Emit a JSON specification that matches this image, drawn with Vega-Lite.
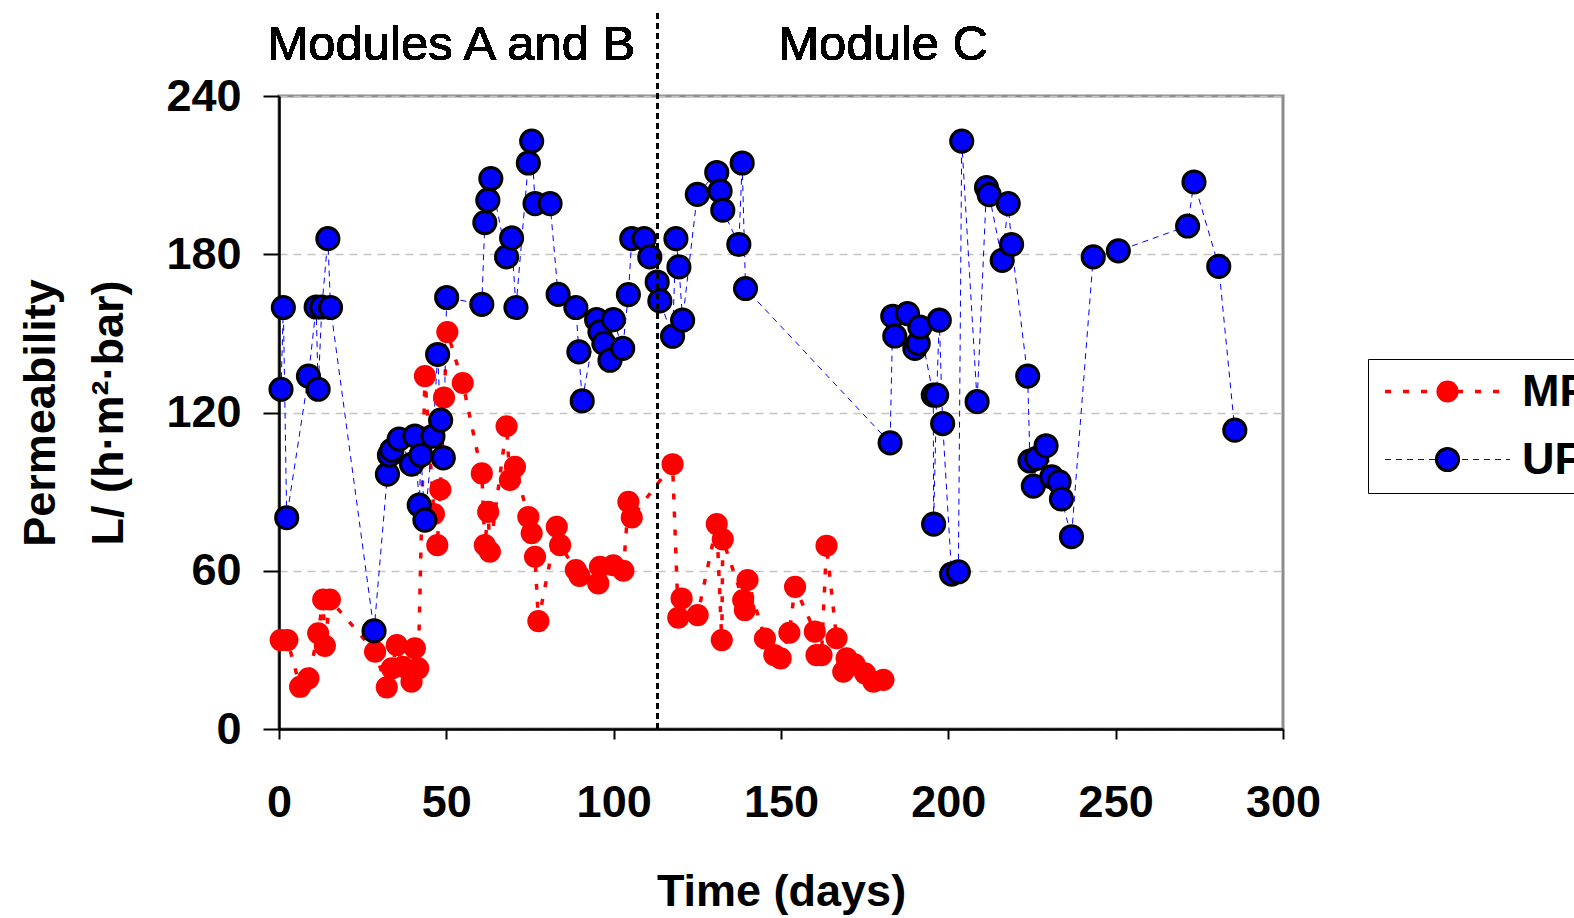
{
 "$schema": "https://vega.github.io/schema/vega-lite/v6.json",
 "width": 1004,
 "height": 633,
 "autosize": {"type": "none"},
 "padding": {"left": 279, "top": 96, "right": 291, "bottom": 189},
 "background": "white",
 "config": {
  "font": "Liberation Sans",
  "view": {"stroke": "#8c8c8c", "strokeWidth": 3}
 },
 "data": {"values": [
  {"day":0.5,"perm":33.7,"series":"MF"},{"day":2.5,"perm":33.7,"series":"MF"},{"day":6.3,"perm":16.0,"series":"MF"},{"day":8.8,"perm":19.2,"series":"MF"},
  {"day":11.7,"perm":36.3,"series":"MF"},{"day":13.2,"perm":49.1,"series":"MF"},{"day":13.7,"perm":31.5,"series":"MF"},{"day":15.2,"perm":49.1,"series":"MF"},
  {"day":28.7,"perm":29.3,"series":"MF"},{"day":32.2,"perm":15.8,"series":"MF"},{"day":33.7,"perm":23.0,"series":"MF"},{"day":35.2,"perm":31.8,"series":"MF"},
  {"day":37.0,"perm":23.6,"series":"MF"},{"day":39.6,"perm":17.9,"series":"MF"},{"day":40.6,"perm":30.6,"series":"MF"},{"day":41.6,"perm":23.0,"series":"MF"},
  {"day":43.6,"perm":133.8,"series":"MF"},{"day":46.3,"perm":81.5,"series":"MF"},{"day":47.3,"perm":69.7,"series":"MF"},{"day":48.2,"perm":90.8,"series":"MF"},
  {"day":49.3,"perm":125.7,"series":"MF"},{"day":50.3,"perm":150.5,"series":"MF"},{"day":54.9,"perm":131.2,"series":"MF"},{"day":60.6,"perm":96.9,"series":"MF"},
  {"day":61.5,"perm":69.7,"series":"MF"},{"day":62.5,"perm":82.3,"series":"MF"},{"day":63.0,"perm":67.2,"series":"MF"},{"day":68.0,"perm":114.8,"series":"MF"},
  {"day":69.0,"perm":94.4,"series":"MF"},{"day":70.5,"perm":99.4,"series":"MF"},{"day":74.5,"perm":80.4,"series":"MF"},{"day":75.5,"perm":74.2,"series":"MF"},
  {"day":76.5,"perm":65.3,"series":"MF"},{"day":77.5,"perm":40.9,"series":"MF"},{"day":83.0,"perm":76.7,"series":"MF"},{"day":84.0,"perm":69.7,"series":"MF"},
  {"day":88.7,"perm":60.3,"series":"MF"},{"day":89.8,"perm":58.0,"series":"MF"},{"day":95.4,"perm":55.2,"series":"MF"},{"day":95.9,"perm":61.5,"series":"MF"},
  {"day":99.9,"perm":62.1,"series":"MF"},{"day":102.9,"perm":60.0,"series":"MF"},{"day":104.4,"perm":86.1,"series":"MF"},{"day":105.4,"perm":80.2,"series":"MF"},
  {"day":117.6,"perm":100.4,"series":"MF"},{"day":119.3,"perm":42.2,"series":"MF"},{"day":120.3,"perm":49.5,"series":"MF"},{"day":125.1,"perm":43.2,"series":"MF"},
  {"day":130.8,"perm":77.7,"series":"MF"},{"day":132.3,"perm":33.7,"series":"MF"},{"day":132.6,"perm":71.9,"series":"MF"},{"day":138.7,"perm":48.9,"series":"MF"},
  {"day":139.2,"perm":45.1,"series":"MF"},{"day":140.0,"perm":56.5,"series":"MF"},{"day":145.2,"perm":34.3,"series":"MF"},{"day":148.0,"perm":28.0,"series":"MF"},
  {"day":149.9,"perm":26.8,"series":"MF"},{"day":152.5,"perm":36.5,"series":"MF"},{"day":154.2,"perm":53.9,"series":"MF"},{"day":160.1,"perm":36.9,"series":"MF"},
  {"day":160.6,"perm":28.0,"series":"MF"},{"day":162.1,"perm":28.0,"series":"MF"},{"day":163.6,"perm":69.5,"series":"MF"},{"day":166.6,"perm":34.4,"series":"MF"},
  {"day":168.6,"perm":21.7,"series":"MF"},{"day":169.6,"perm":26.8,"series":"MF"},{"day":172.0,"perm":24.5,"series":"MF"},{"day":175.1,"perm":21.1,"series":"MF"},
  {"day":177.6,"perm":17.9,"series":"MF"},{"day":180.6,"perm":18.6,"series":"MF"},
  {"day":0.6,"perm":128.8,"series":"UF"},{"day":1.3,"perm":159.8,"series":"UF"},{"day":2.3,"perm":80.1,"series":"UF"},{"day":8.8,"perm":133.8,"series":"UF"},
  {"day":11.1,"perm":160.0,"series":"UF"},{"day":11.7,"perm":128.8,"series":"UF"},{"day":12.8,"perm":160.0,"series":"UF"},{"day":14.6,"perm":185.9,"series":"UF"},
  {"day":15.4,"perm":159.8,"series":"UF"},{"day":28.4,"perm":37.2,"series":"UF"},{"day":32.4,"perm":96.6,"series":"UF"},{"day":33.0,"perm":103.8,"series":"UF"},
  {"day":33.7,"perm":105.7,"series":"UF"},{"day":35.9,"perm":109.9,"series":"UF"},{"day":39.6,"perm":100.4,"series":"UF"},{"day":40.6,"perm":111.1,"series":"UF"},
  {"day":41.9,"perm":84.9,"series":"UF"},{"day":42.4,"perm":103.8,"series":"UF"},{"day":43.6,"perm":79.2,"series":"UF"},{"day":46.0,"perm":111.0,"series":"UF"},
  {"day":47.4,"perm":142.0,"series":"UF"},{"day":48.3,"perm":117.1,"series":"UF"},{"day":49.1,"perm":102.8,"series":"UF"},{"day":50.1,"perm":163.6,"series":"UF"},
  {"day":60.6,"perm":161.0,"series":"UF"},{"day":61.5,"perm":192.0,"series":"UF"},{"day":62.4,"perm":200.5,"series":"UF"},{"day":63.3,"perm":208.7,"series":"UF"},
  {"day":68.0,"perm":179.0,"series":"UF"},{"day":69.5,"perm":186.2,"series":"UF"},{"day":70.8,"perm":159.8,"series":"UF"},{"day":74.5,"perm":214.6,"series":"UF"},
  {"day":75.5,"perm":222.9,"series":"UF"},{"day":76.5,"perm":199.2,"series":"UF"},{"day":81.0,"perm":199.2,"series":"UF"},{"day":83.4,"perm":164.8,"series":"UF"},
  {"day":88.7,"perm":159.8,"series":"UF"},{"day":89.6,"perm":143.0,"series":"UF"},{"day":90.6,"perm":124.4,"series":"UF"},{"day":94.9,"perm":155.2,"series":"UF"},
  {"day":95.9,"perm":150.6,"series":"UF"},{"day":97.1,"perm":146.2,"series":"UF"},{"day":98.9,"perm":139.8,"series":"UF"},{"day":99.9,"perm":155.2,"series":"UF"},
  {"day":102.7,"perm":144.3,"series":"UF"},{"day":104.4,"perm":164.7,"series":"UF"},{"day":105.4,"perm":185.9,"series":"UF"},{"day":109.1,"perm":185.9,"series":"UF"},
  {"day":110.8,"perm":179.0,"series":"UF"},{"day":113.0,"perm":169.5,"series":"UF"},{"day":113.8,"perm":162.3,"series":"UF"},{"day":117.6,"perm":148.9,"series":"UF"},
  {"day":118.6,"perm":185.9,"series":"UF"},{"day":119.5,"perm":175.2,"series":"UF"},{"day":120.6,"perm":155.0,"series":"UF"},{"day":125.0,"perm":202.7,"series":"UF"},
  {"day":130.8,"perm":211.0,"series":"UF"},{"day":131.8,"perm":204.0,"series":"UF"},{"day":132.6,"perm":196.7,"series":"UF"},{"day":137.4,"perm":183.7,"series":"UF"},
  {"day":138.4,"perm":214.6,"series":"UF"},{"day":139.4,"perm":167.0,"series":"UF"},{"day":182.6,"perm":108.5,"series":"UF"},{"day":183.4,"perm":156.5,"series":"UF"},
  {"day":184.0,"perm":149.0,"series":"UF"},{"day":187.8,"perm":157.5,"series":"UF"},{"day":190.0,"perm":144.3,"series":"UF"},{"day":191.0,"perm":146.2,"series":"UF"},
  {"day":191.5,"perm":152.4,"series":"UF"},{"day":195.5,"perm":126.6,"series":"UF"},{"day":195.6,"perm":77.7,"series":"UF"},{"day":196.5,"perm":126.6,"series":"UF"},
  {"day":197.3,"perm":155.0,"series":"UF"},{"day":198.3,"perm":115.8,"series":"UF"},{"day":201.0,"perm":58.7,"series":"UF"},{"day":203.0,"perm":59.6,"series":"UF"},
  {"day":204.0,"perm":222.9,"series":"UF"},{"day":208.6,"perm":124.1,"series":"UF"},{"day":211.4,"perm":205.3,"series":"UF"},{"day":212.2,"perm":202.6,"series":"UF"},
  {"day":216.1,"perm":177.7,"series":"UF"},{"day":217.9,"perm":199.2,"series":"UF"},{"day":218.9,"perm":183.7,"series":"UF"},{"day":223.7,"perm":133.8,"series":"UF"},
  {"day":224.4,"perm":101.6,"series":"UF"},{"day":225.4,"perm":92.1,"series":"UF"},{"day":226.4,"perm":102.6,"series":"UF"},{"day":229.2,"perm":107.4,"series":"UF"},
  {"day":230.9,"perm":95.6,"series":"UF"},{"day":233.1,"perm":93.7,"series":"UF"},{"day":233.8,"perm":87.2,"series":"UF"},{"day":236.8,"perm":72.9,"series":"UF"},
  {"day":243.3,"perm":179.0,"series":"UF"},{"day":250.8,"perm":181.3,"series":"UF"},{"day":271.5,"perm":190.7,"series":"UF"},{"day":273.4,"perm":207.4,"series":"UF"},
  {"day":280.8,"perm":175.4,"series":"UF"},{"day":285.6,"perm":113.3,"series":"UF"}
 ]},
 "layer": [
  {
   "mark": {"type": "line", "strokeCap": "butt"},
   "encoding": {
    "x": {"field": "day", "type": "quantitative", "scale": {"domain": [0, 300], "nice": false},
     "axis": {"values": [0, 50, 100, 150, 200, 250, 300], "title": "Time (days)", "grid": false,
      "labelFontSize": 45, "labelFontWeight": "bold", "labelColor": "black", "labelFlush": false, "labelOverlap": false,
      "titleFontSize": 45, "titleFontWeight": "bold", "titleColor": "black",
      "domainColor": "black", "domainWidth": 2.5, "tickColor": "black", "tickWidth": 2, "tickSize": 10,
      "labelPadding": 41, "titlePadding": 44}},
    "y": {"field": "perm", "type": "quantitative", "scale": {"domain": [0, 240], "nice": false},
     "axis": {"values": [0, 60, 120, 180, 240], "title": ["Permeability", "L/ (h·m²·bar)"],
      "grid": true, "gridColor": "#c4c4c4", "gridDash": [8, 6], "gridWidth": 1.5,
      "labelFontSize": 45, "labelFontWeight": "bold", "labelColor": "black", "labelFlush": false,
      "titleFontSize": 45, "titleFontWeight": "bold", "titleColor": "black", "titleLineHeight": 68,
      "domainColor": "black", "domainWidth": 2.5, "tickColor": "black", "tickWidth": 2, "tickSize": 16,
      "labelPadding": 22, "titlePadding": 34}},
    "stroke": {"field": "series", "type": "nominal", "scale": {"domain": ["MF", "UF"], "range": ["#ff0000", "#0000ff"]},
     "legend": {"title": null, "orient": "none", "legendX": 1089, "legendY": 263, "padding": 10, "rowPadding": 22,
      "symbolType": "M-5,0H5", "symbolSize": 625, "symbolOffset": 47,
      "labelFontSize": 45, "labelFontWeight": "bold", "labelColor": "black", "labelOffset": 52,
      "strokeColor": "black", "fillColor": "white"}},
    "strokeDash": {"field": "series", "type": "nominal", "scale": {"domain": ["MF", "UF"], "range": [[6, 12], [6, 5]]},
     "legend": {"title": null, "orient": "none", "legendX": 1089, "legendY": 263, "padding": 10, "rowPadding": 22,
      "symbolType": "M-5,0H5", "symbolSize": 625, "symbolOffset": 47,
      "labelFontSize": 45, "labelFontWeight": "bold", "labelColor": "black", "labelOffset": 52,
      "strokeColor": "black", "fillColor": "white"}},
    "strokeWidth": {"field": "series", "type": "ordinal", "scale": {"domain": ["MF", "UF"], "range": [3.5, 1]},
     "legend": {"title": null, "orient": "none", "legendX": 1089, "legendY": 263, "padding": 10, "rowPadding": 22,
      "symbolType": "M-5,0H5", "symbolSize": 625, "symbolOffset": 47,
      "labelFontSize": 45, "labelFontWeight": "bold", "labelColor": "black", "labelOffset": 52,
      "strokeColor": "black", "fillColor": "white"}}
   }
  },
  {
   "mark": {"type": "circle", "opacity": 1, "size": 490, "strokeWidth": 3},
   "encoding": {
    "x": {"field": "day", "type": "quantitative"},
    "y": {"field": "perm", "type": "quantitative"},
    "fill": {"field": "series", "type": "nominal", "scale": {"range": ["#ff0000", "#0000ff"]},
     "legend": {"title": null, "orient": "none", "legendX": 1089, "legendY": 263, "padding": 10, "rowPadding": 22,
      "symbolType": "circle", "symbolSize": 490, "symbolOffset": 47, "symbolStrokeWidth": 3,
      "labelFontSize": 45, "labelFontWeight": "bold", "labelColor": "transparent", "labelOffset": 52}},
    "stroke": {"field": "series", "type": "nominal", "scale": {"range": ["transparent", "#000000"]},
     "legend": {"title": null, "orient": "none", "legendX": 1089, "legendY": 263, "padding": 10, "rowPadding": 22,
      "symbolType": "circle", "symbolSize": 490, "symbolOffset": 47, "symbolStrokeWidth": 3,
      "labelFontSize": 45, "labelFontWeight": "bold", "labelColor": "transparent", "labelOffset": 52}}
   }
  },
  {
   "mark": {"type": "rule", "color": "black", "strokeWidth": 2, "strokeDash": [6, 4]},
   "encoding": {"x": {"datum": 113.2}, "y": {"datum": 0}, "y2": {"datum": 273}}
  },
  {
   "mark": {"type": "text", "fontSize": 49, "color": "black", "align": "center", "baseline": "middle"},
   "encoding": {"x": {"datum": 51.5}, "y": {"datum": 259.2}, "text": {"value": "Modules A and B"}}
  },
  {
   "mark": {"type": "text", "fontSize": 49, "color": "black", "align": "center", "baseline": "middle"},
   "encoding": {"x": {"datum": 180.5}, "y": {"datum": 259.2}, "text": {"value": "Module C"}}
  }
 ],
 "resolve": {
  "scale": {"stroke": "independent", "fill": "independent", "strokeDash": "independent", "strokeWidth": "independent"},
  "legend": {"stroke": "independent", "fill": "independent", "strokeDash": "independent", "strokeWidth": "independent"}
 }
}
